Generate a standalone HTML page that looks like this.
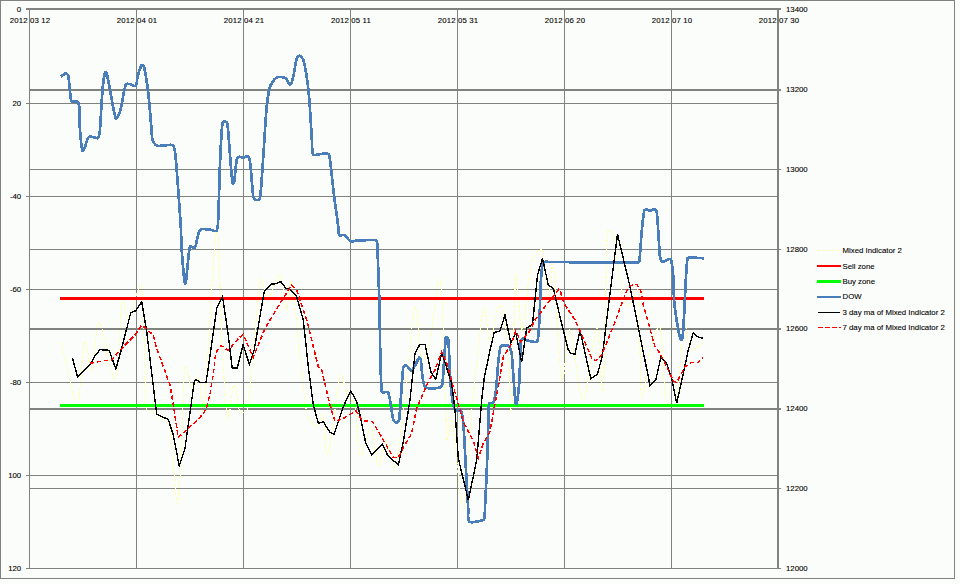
<!DOCTYPE html>
<html><head><meta charset="utf-8"><style>
html,body{margin:0;padding:0;background:#FBFDFA;}
svg{display:block;}
.t{font-family:"Liberation Sans",sans-serif;font-size:7.8px;fill:#000;stroke:#000;stroke-width:0.1px;}
.d{letter-spacing:0.15px;}
</style></head><body>
<svg width="960" height="584" viewBox="0 0 960 584">
<rect x="0" y="0" width="960" height="584" fill="#FBFDFA"/>
<g shape-rendering="crispEdges"><rect x="0" y="0" width="955" height="1" fill="#7F827F"/>
<rect x="0" y="0" width="1" height="579" fill="#7F827F"/>
<rect x="954" y="0" width="1" height="579" fill="#7F827F"/>
<rect x="0" y="578" width="955" height="1" fill="#7F827F"/>
<rect x="29" y="9" width="1" height="559" fill="#7F827F"/>
<rect x="136" y="9" width="1" height="559" fill="#7F827F"/>
<rect x="243" y="9" width="1" height="559" fill="#7F827F"/>
<rect x="350" y="9" width="1" height="559" fill="#7F827F"/>
<rect x="457" y="9" width="1" height="559" fill="#7F827F"/>
<rect x="564" y="9" width="1" height="559" fill="#7F827F"/>
<rect x="671" y="9" width="1" height="559" fill="#7F827F"/>
<rect x="777" y="8" width="2" height="561" fill="#7F827F"/>
<rect x="26" y="103" width="752" height="1" fill="#7F827F"/>
<rect x="26" y="196" width="752" height="1" fill="#7F827F"/>
<rect x="26" y="289" width="752" height="1" fill="#7F827F"/>
<rect x="26" y="382" width="752" height="1" fill="#7F827F"/>
<rect x="26" y="475" width="752" height="1" fill="#7F827F"/>
<rect x="26" y="568" width="752" height="1" fill="#7F827F"/>
<rect x="26" y="8" width="755" height="2" fill="#7F827F"/>
<rect x="29" y="89" width="752" height="2" fill="#7F827F"/>
<rect x="29" y="169" width="752" height="1" fill="#7F827F"/>
<rect x="29" y="249" width="752" height="1" fill="#7F827F"/>
<rect x="29" y="328" width="752" height="2" fill="#7F827F"/>
<rect x="29" y="408" width="752" height="2" fill="#7F827F"/>
<rect x="29" y="488" width="752" height="1" fill="#7F827F"/>
<rect x="29" y="568" width="752" height="1" fill="#7F827F"/></g>
<text x="21.2" y="11.7" text-anchor="end" class="t">0</text>
<text x="21.2" y="105.7" text-anchor="end" class="t">20</text>
<text x="21.2" y="198.7" text-anchor="end" class="t">-40</text>
<text x="21.2" y="291.7" text-anchor="end" class="t">-60</text>
<text x="21.2" y="384.7" text-anchor="end" class="t">-80</text>
<text x="21.2" y="477.7" text-anchor="end" class="t">100</text>
<text x="21.2" y="570.7" text-anchor="end" class="t">120</text>
<text x="786" y="11.5" class="t">13400</text>
<text x="786" y="92.0" class="t">13200</text>
<text x="786" y="171.5" class="t">13000</text>
<text x="786" y="251.5" class="t">12800</text>
<text x="786" y="331.0" class="t">12600</text>
<text x="786" y="411.0" class="t">12400</text>
<text x="786" y="490.5" class="t">12200</text>
<text x="786" y="570.5" class="t">12000</text>
<text x="30" y="23" text-anchor="middle" class="t d">2012 03 12</text>
<text x="137" y="23" text-anchor="middle" class="t d">2012 04 01</text>
<text x="244" y="23" text-anchor="middle" class="t d">2012 04 21</text>
<text x="351" y="23" text-anchor="middle" class="t d">2012 05 11</text>
<text x="458" y="23" text-anchor="middle" class="t d">2012 05 31</text>
<text x="565" y="23" text-anchor="middle" class="t d">2012 06 20</text>
<text x="672" y="23" text-anchor="middle" class="t d">2012 07 10</text>
<text x="779" y="23" text-anchor="middle" class="t d">2012 07 30</text>
<path d="M61.30,342.50 C63.90,352.25 73.05,401.08 76.90,401.00 C80.75,400.92 81.90,347.17 84.40,342.00 C86.90,336.83 89.40,373.25 91.90,370.00 C94.40,366.75 95.55,321.03 99.40,322.50 C103.25,323.97 111.15,382.55 115.00,378.80 C118.85,375.05 120.20,309.80 122.50,300.00 C123.70,294.90 125.67,322.40 128.80,320.00 C131.93,317.60 139.55,276.62 141.30,285.60 C144.22,300.60 144.43,389.05 146.30,410.00 C146.44,411.58 151.12,410.51 152.50,411.30 C155.42,412.97 161.18,417.58 163.80,420.00 C165.59,421.65 169.58,425.10 170.00,427.50 C172.38,441.17 175.60,512.08 178.10,502.00 C180.60,491.92 182.68,386.00 185.00,367.00 C185.67,361.51 189.67,386.17 192.00,388.00 C194.33,389.83 197.64,375.27 199.00,378.00 C201.00,382.00 202.99,420.53 204.00,412.00 C206.88,387.55 213.30,242.47 216.30,231.30 C219.30,220.13 220.29,316.59 222.00,345.00 C223.09,363.14 225.50,410.83 227.50,417.50 C229.50,424.17 231.92,385.92 234.00,385.00 C236.08,384.08 237.75,407.83 240.00,412.00 C240.92,413.71 247.20,411.92 247.50,410.00 C250.93,387.80 257.18,297.47 260.60,278.80 C261.53,273.74 264.77,298.63 268.00,298.00 C271.23,297.37 276.95,273.00 280.00,275.00 C283.05,277.00 284.42,308.95 286.30,310.00 C288.18,311.05 289.89,274.16 291.30,281.30 C294.63,298.13 302.97,387.47 306.30,411.00 C306.74,414.10 309.43,420.00 311.30,422.50 C312.36,423.93 316.07,427.06 317.50,426.00 C319.45,424.55 321.86,410.65 323.00,413.80 C324.75,418.63 325.08,461.47 328.00,455.00 C330.92,448.53 337.17,384.50 340.50,375.00 C342.50,369.29 345.58,393.42 348.00,398.00 C348.97,399.84 354.57,400.46 355.00,402.50 C357.00,412.00 357.28,450.83 360.00,455.00 C362.72,459.17 368.30,425.83 371.30,427.50 C374.30,429.17 375.38,462.92 378.00,465.00 C380.62,467.08 384.17,439.17 387.00,440.00 C389.83,440.83 392.71,477.42 395.00,470.00 C398.50,458.67 405.00,396.53 408.00,372.00 C410.00,355.70 412.67,308.70 415.00,306.70 C417.33,304.70 419.50,354.45 422.00,360.00 C424.21,364.91 428.74,345.24 430.00,340.00 C433.13,326.95 438.32,267.09 440.80,281.70 C443.63,298.37 445.13,416.95 447.00,440.00 C447.42,445.14 450.83,414.98 452.00,420.00 C454.72,431.67 460.30,508.33 463.30,510.00 C466.30,511.67 468.16,449.99 470.00,430.00 C471.84,409.98 475.69,369.97 478.00,350.00 C479.24,339.33 482.20,309.17 484.20,307.50 C486.20,305.83 487.37,340.42 490.00,340.00 C492.63,339.58 497.00,303.33 500.00,305.00 C503.00,306.67 506.73,338.64 508.00,350.00 C509.66,364.94 510.40,422.22 511.70,410.00 C513.00,397.78 514.08,290.03 515.80,276.70 C517.51,263.39 519.35,332.50 522.00,330.00 C524.65,327.50 528.28,275.03 531.70,261.70 C532.69,257.84 540.94,246.34 542.50,250.00 C545.22,256.38 546.20,297.50 548.00,300.00 C549.80,302.50 551.81,256.28 553.30,265.00 C555.58,278.33 558.92,369.17 561.70,380.00 C564.48,390.83 566.45,326.67 570.00,330.00 C573.55,333.33 578.55,400.33 583.00,400.00 C587.45,399.67 593.37,329.67 596.70,328.00 C600.03,326.33 601.28,405.48 603.00,390.00 C604.80,373.80 605.78,256.63 607.50,230.80 C607.62,229.01 612.88,233.26 613.30,235.00 C615.67,244.87 619.20,278.05 621.70,290.00 C622.62,294.39 625.58,306.70 628.30,306.70 C631.02,306.70 637.29,285.22 638.00,290.00 C640.23,305.05 639.70,387.00 641.70,397.00 C643.70,407.00 646.95,361.50 650.00,350.00 C651.55,344.16 658.16,322.25 660.00,328.00 C662.67,336.33 663.33,387.17 666.00,400.00 C666.57,402.74 675.39,407.73 676.00,405.00 C679.00,391.67 681.67,329.17 684.00,320.00 C685.89,312.59 687.33,345.83 690.00,350.00 C691.51,352.35 697.73,346.62 700.00,345.00 C701.30,344.07 703.33,340.83 704.00,340.00" fill="none" stroke="#FFFFB8" stroke-width="1.1" stroke-dasharray="3,1.5" shape-rendering="crispEdges"/>
<line x1="60" y1="298.5" x2="704" y2="298.5" stroke="#FF0000" stroke-width="3"/>
<line x1="60" y1="405.5" x2="704" y2="405.5" stroke="#00FF00" stroke-width="3"/>
<path d="M60.80,76.70 C61.63,76.13 64.55,73.45 65.80,73.30 C66.68,73.19 68.13,74.93 68.30,75.80 C69.13,79.97 70.10,93.98 70.80,98.30 C70.95,99.24 71.65,101.27 72.50,101.70 C73.61,102.27 76.50,100.95 77.50,101.70 C78.56,102.49 79.08,105.38 79.20,106.70 C79.62,111.42 79.57,124.19 80.00,130.00 C80.39,135.22 81.67,148.02 82.50,150.80 C82.84,151.95 84.48,147.78 85.00,146.70 C86.12,144.35 87.12,138.10 89.20,136.70 C90.95,135.52 95.83,138.58 97.50,138.30 C98.41,138.14 98.93,135.89 99.20,135.00 C99.57,133.79 99.91,131.26 100.00,130.00 C100.55,122.50 101.67,99.58 102.50,90.00 C102.88,85.60 104.30,75.28 105.00,72.50 C105.11,72.04 106.57,72.85 106.70,73.30 C107.53,76.22 109.16,85.83 110.00,90.00 C111.43,97.08 114.13,114.68 115.80,118.30 C116.62,120.08 119.45,113.58 120.00,111.70 C121.67,106.02 124.13,88.78 125.80,84.20 C126.16,83.21 128.96,84.03 130.00,84.20 C131.49,84.44 134.74,86.86 135.80,85.80 C137.05,84.55 136.87,78.93 137.50,76.70 C138.35,73.71 140.58,66.53 141.70,65.00 C142.22,64.29 144.00,66.64 144.20,67.50 C145.30,72.22 147.54,86.81 148.30,93.30 C149.42,102.87 151.00,123.92 151.70,131.70 C151.89,133.78 151.71,138.07 152.50,140.00 C153.23,141.77 155.64,145.34 157.50,145.80 C160.83,146.63 169.58,144.02 172.50,145.00 C174.19,145.57 174.75,149.93 175.00,151.70 C175.83,157.53 176.95,172.92 177.50,180.00 C178.40,191.67 180.10,215.03 180.80,226.70 C181.15,232.52 181.27,244.19 181.70,250.00 C182.32,258.34 184.03,280.52 185.00,283.30 C185.97,286.08 186.93,270.86 187.50,266.70 C188.18,261.71 188.75,249.90 190.00,246.70 C190.46,245.52 194.35,248.59 195.00,247.50 C196.67,244.72 197.50,232.97 200.00,230.00 C201.61,228.09 207.50,229.58 210.00,229.70 C211.70,229.78 215.79,232.23 216.70,230.80 C218.08,228.63 218.13,220.24 218.30,216.70 C218.85,205.45 219.41,176.64 220.00,163.30 C220.46,153.09 221.53,129.43 222.50,122.50 C222.62,121.66 225.00,121.43 225.80,121.70 C226.52,121.94 227.41,123.45 227.50,124.20 C228.20,129.75 229.35,147.30 230.00,155.00 C230.60,162.08 231.80,178.85 232.50,183.30 C232.59,183.88 234.10,182.27 234.20,181.70 C234.90,177.82 235.87,164.17 236.70,160.00 C236.90,158.99 238.21,157.00 239.20,156.70 C240.23,156.39 242.23,158.05 243.30,158.00 C244.43,157.95 246.51,155.75 247.50,156.30 C248.62,156.92 249.79,160.23 250.00,161.70 C250.97,168.43 252.33,190.32 253.30,196.70 C253.45,197.72 254.84,199.62 255.80,200.00 C256.73,200.36 259.42,200.15 259.70,199.20 C260.68,195.87 261.33,184.81 261.70,180.00 C262.58,168.47 264.17,142.22 265.00,130.00 C265.40,124.17 266.03,112.50 266.70,106.70 C267.28,101.67 268.36,91.49 270.00,86.70 C270.92,84.01 274.19,78.84 276.70,77.50 C278.72,76.43 283.81,77.18 285.80,78.30 C287.52,79.27 288.75,85.27 290.00,85.00 C291.25,84.73 292.76,78.87 293.30,76.70 C294.42,72.25 295.58,61.78 296.70,58.30 C297.02,57.31 299.00,55.54 300.00,55.80 C301.10,56.08 302.89,58.73 303.30,60.00 C304.42,63.48 306.05,72.49 306.70,76.70 C307.53,82.07 308.75,92.88 309.20,98.30 C310.00,107.89 311.15,127.53 311.70,136.70 C311.95,140.85 312.08,150.25 312.50,153.30 C312.58,153.90 313.60,155.00 314.20,155.00 C316.57,155.00 324.20,153.30 326.70,153.30 C327.46,153.30 328.98,154.28 329.20,155.00 C329.88,157.23 330.45,163.77 330.80,166.70 C331.63,173.65 333.26,189.21 334.20,196.70 C335.14,204.21 337.47,220.32 338.30,226.70 C338.57,228.77 338.22,233.62 339.20,235.00 C339.92,236.02 343.07,234.48 344.20,235.00 C345.53,235.61 347.27,238.15 348.30,239.20 C348.92,239.83 349.94,241.49 350.80,241.70 C351.84,241.95 353.93,240.88 355.00,240.80 C359.03,240.52 371.33,239.85 375.00,240.00 C375.66,240.03 376.84,241.06 377.00,241.70 C377.42,243.37 377.42,247.92 377.50,250.00 C377.87,259.17 378.85,285.02 379.20,296.70 C379.90,320.32 380.18,375.73 381.70,391.70 C381.86,393.35 387.67,390.96 388.30,392.50 C390.23,397.22 391.90,415.00 393.30,420.00 C393.58,421.02 395.72,422.50 396.70,422.50 C397.58,422.50 399.10,420.88 399.20,420.00 C400.30,410.70 402.05,375.73 403.30,366.70 C403.42,365.83 405.91,365.41 406.70,365.80 C408.10,366.48 410.23,371.78 411.70,370.80 C413.78,369.42 417.68,359.30 419.20,357.50 C419.68,356.93 420.66,359.27 420.80,360.00 C421.77,364.87 421.80,382.12 425.00,386.70 C427.15,389.78 437.08,388.07 440.00,387.50 C441.20,387.27 442.36,384.51 442.50,383.30 C443.47,374.97 444.83,344.85 445.80,337.50 C445.90,336.75 448.22,338.45 448.30,339.20 C449.13,347.40 449.82,375.18 450.80,386.70 C451.27,392.15 453.08,404.28 454.20,408.30 C454.48,409.30 456.50,410.54 457.50,410.80 C458.32,411.01 460.44,409.23 460.80,410.00 C461.77,412.08 463.00,419.93 463.30,423.30 C464.13,432.75 465.17,455.85 465.80,466.70 C466.42,477.53 467.73,500.83 468.30,510.00 C468.48,512.93 467.25,519.90 469.20,521.70 C471.15,523.50 477.50,521.22 480.00,520.80 C481.11,520.62 483.82,520.26 484.20,519.20 C485.03,516.85 484.83,509.83 485.00,506.70 C485.42,499.05 486.36,481.65 486.70,473.30 C487.19,461.23 487.88,436.67 488.30,425.00 C488.49,419.57 488.37,407.05 489.20,403.30 C489.43,402.28 492.78,403.41 493.30,402.50 C494.40,400.57 495.46,394.45 495.80,391.70 C496.63,384.90 497.57,368.98 498.30,361.70 C498.65,358.26 499.67,350.65 500.20,348.00 C500.33,347.37 500.88,345.96 501.50,345.80 C502.88,345.43 507.08,345.43 508.50,345.80 C509.14,345.97 509.74,347.39 510.00,348.00 C510.53,349.25 511.55,351.92 511.70,353.30 C512.67,362.52 514.55,398.30 515.80,403.30 C517.03,408.22 518.79,388.36 519.20,383.30 C520.03,373.03 520.12,349.20 520.80,341.70 C520.90,340.65 522.47,338.58 523.30,338.30 C524.02,338.06 525.06,339.87 525.80,340.00 C528.17,340.42 536.77,343.64 537.50,340.80 C540.00,331.08 539.97,294.33 540.80,281.70 C541.08,277.51 541.67,268.37 542.50,265.00 C542.79,263.83 544.83,262.00 545.80,261.50 C546.37,261.21 547.66,261.99 548.30,262.00 C563.30,262.17 620.65,262.55 635.80,262.50 C636.67,262.50 639.04,262.56 639.20,261.70 C640.18,256.57 640.96,239.19 641.70,231.70 C642.21,226.46 643.37,214.55 644.20,210.80 C644.36,210.08 645.96,209.20 646.70,209.20 C647.62,209.20 649.08,210.80 650.00,210.80 C651.12,210.80 653.09,209.05 654.20,209.20 C655.08,209.32 656.54,210.83 656.70,211.70 C657.38,215.45 657.93,226.70 658.30,231.70 C658.76,237.95 659.30,251.70 660.00,256.70 C660.19,258.08 661.38,261.15 662.50,261.70 C663.52,262.20 665.62,260.33 666.70,260.00 C667.70,259.70 670.42,258.23 670.80,259.20 C671.90,261.98 672.95,272.29 673.30,276.70 C673.80,282.93 673.62,295.47 674.20,301.70 C674.87,308.82 677.20,323.62 678.30,330.00 C678.74,332.54 680.10,338.62 680.80,340.00 C681.07,340.54 682.42,338.90 682.50,338.30 C683.07,333.85 683.85,319.55 684.20,313.30 C684.67,304.98 685.30,288.32 685.80,280.00 C686.13,274.57 686.80,262.05 687.50,258.30 C687.62,257.65 689.34,257.50 690.00,257.50 C692.78,257.50 701.83,258.17 704.20,258.30" fill="none" stroke="#4A7EBB" stroke-width="2.7" stroke-linejoin="round" shape-rendering="crispEdges"/>
<polyline points="72.5,358.3 77.5,376.7 90.0,365.0 95.0,355.8 100.0,349.7 109.2,350.3 115.8,369.0 121.7,348.3 130.8,312.5 135.8,310.8 141.7,301.7 146.7,331.7 156.7,414.2 168.3,419.5 173.3,435.0 179.2,465.8 185.0,448.3 194.4,380.9 195.6,379.4 200.3,382.2 206.1,382.2 213.7,330.0 216.7,308.3 222.5,296.7 227.6,330.0 232.2,367.8 237.2,368.2 243.1,344.7 249.4,364.5 254.2,350.0 264.2,291.7 270.8,284.2 275.8,283.7 280.8,281.7 285.8,288.3 290.0,289.2 296.7,296.7 303.3,320.0 308.3,366.7 313.3,405.0 318.3,423.3 323.3,421.7 330.0,432.5 334.2,434.2 343.3,406.7 350.8,390.8 356.7,401.7 360.0,415.0 365.8,443.3 371.7,455.0 382.5,444.2 387.5,455.0 398.3,465.0 403.3,441.7 410.0,400.0 415.0,353.3 420.0,344.2 425.0,344.2 430.8,371.7 435.8,379.2 441.7,352.5 451.7,383.3 455.0,410.0 458.3,458.3 468.3,500.0 476.7,460.0 481.7,400.0 484.2,378.3 490.0,350.0 494.2,332.5 500.0,330.8 505.0,315.0 510.8,343.0 515.8,333.0 521.7,362.0 526.7,328.0 532.5,324.5 537.5,275.0 542.5,258.3 548.3,285.0 553.3,288.3 560.8,320.0 568.3,350.0 570.8,353.3 575.0,354.2 580.0,330.0 590.8,378.8 597.5,374.2 602.5,355.0 606.7,320.0 617.5,234.2 630.0,286.7 648.3,376.7 650.0,385.8 655.8,380.0 660.8,357.5 666.7,363.5 671.7,378.3 676.7,403.3 683.3,373.3 688.3,350.0 693.3,332.5 697.5,336.7 703.3,338.3" fill="none" stroke="#000" stroke-width="1.4" stroke-linejoin="miter" shape-rendering="crispEdges"/>
<polyline points="90.0,363.3 103.3,360.8 111.7,360.0 123.3,346.7 135.0,335.0 141.7,325.0 153.3,335.0 156.7,348.3 170.0,385.0 173.4,405.3 178.3,437.5 188.3,428.3 198.6,419.0 206.1,409.5 210.3,392.7 213.7,370.8 215.8,352.7 220.4,346.0 222.9,346.4 228.0,350.6 238.9,338.0 243.1,334.2 253.3,357.5 265.0,328.3 280.0,303.3 291.7,285.0 296.7,290.0 306.7,320.0 318.3,366.7 321.7,370.0 330.0,405.0 335.0,421.7 345.0,417.5 355.8,410.8 362.5,420.8 372.5,421.7 383.3,440.0 393.3,457.5 398.3,457.5 406.7,441.7 411.7,433.3 416.7,408.3 428.3,381.7 435.0,370.0 441.7,351.7 446.7,363.3 453.3,386.7 456.7,398.3 463.3,422.0 473.3,440.8 478.3,458.0 483.3,443.3 490.0,431.7 495.0,403.3 498.3,386.7 503.3,356.7 510.8,345.0 515.8,330.8 520.8,341.7 528.3,333.3 535.0,320.0 545.0,306.7 550.0,300.0 556.3,293.0 558.8,289.1 560.6,291.3 561.6,296.4 565.0,305.0 575.0,320.0 580.0,331.0 591.7,358.3 595.8,360.8 601.7,355.0 615.8,320.0 625.3,294.0 628.3,288.0 633.8,283.7 637.3,285.0 640.7,290.6 643.3,305.0 655.0,346.7 660.0,353.3 663.3,360.0 673.3,380.8 676.7,382.5 685.0,366.7 691.7,362.5 698.3,362.5 702.5,357.5" fill="none" stroke="#FF0000" stroke-width="1.5" stroke-dasharray="4.5,2.5" shape-rendering="crispEdges"/>
<line x1="817" y1="250.5" x2="841" y2="250.5" stroke="#FFFFB4" stroke-width="1" stroke-dasharray="3,2" shape-rendering="crispEdges"/>
<rect x="817" y="265" width="24" height="2" fill="#FF0000"/>
<rect x="817" y="280" width="24" height="3" fill="#00FF00"/>
<rect x="817" y="296" width="24" height="2" fill="#4A7EBB"/>
<rect x="818" y="312" width="22" height="1" fill="#000000"/>
<line x1="818" y1="327.5" x2="841" y2="327.5" stroke="#FF0000" stroke-width="1.2" stroke-dasharray="5,2" shape-rendering="crispEdges"/>
<text x="842.5" y="253.3" class="t">Mixed Indicator 2</text>
<text x="842.5" y="269.0" class="t">Sell zone</text>
<text x="842.5" y="283.8" class="t">Buy zone</text>
<text x="842.5" y="299.3" class="t">DOW</text>
<text x="842.5" y="314.8" class="t">3 day ma of Mixed Indicator 2</text>
<text x="842.5" y="330.3" class="t">7 day ma of Mixed Indicator 2</text>
</svg>
</body></html>
